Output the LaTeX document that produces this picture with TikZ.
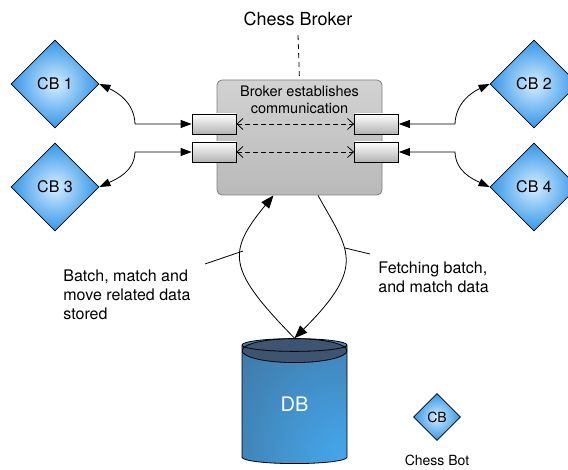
\documentclass[tikz,border=0pt]{standalone}
\usepackage{fontspec}
\setmainfont{TeX Gyre Heros}
\usetikzlibrary{shapes.geometric,arrows.meta}
\definecolor{botblue}{HTML}{3496E8}
\definecolor{botlight}{HTML}{D4EDFF}
\definecolor{dbdark}{HTML}{3D5570}
\definecolor{dblight}{HTML}{45ADF5}
\pgfdeclareradialshading{dbshade}{\pgfpoint{30bp}{-32bp}}{color(0bp)=(dblight); color(15bp)=(dblight!85!dbdark); color(60bp)=(dblight!35!dbdark); color(110bp)=(dbdark)}
\begin{document}
\begin{tikzpicture}[x=1pt, y=1pt, line width=0.8pt,
    bot/.style={diamond, draw, aspect=1, inner sep=0pt, minimum size=88, inner color=botlight, outer color=botblue, font=\fontsize{16}{19}\selectfont},
    port/.style={draw, minimum width=44, minimum height=20, inner sep=0pt, top color=white, bottom color=gray!60},
    link/.style={{Triangle[length=11pt,width=8pt]}-{Triangle[length=11pt,width=8pt]}},
    flow/.style={-{Triangle[length=13pt,width=10pt]}},
    talk/.style={{Straight Barb[length=6pt,width=11pt]}-{Straight Barb[length=6pt,width=11pt]}, dash pattern=on 5pt off 3pt},
    lbl/.style={align=left, inner sep=0pt, anchor=west, font=\fontsize{16}{19}\selectfont}]
  \useasboundingbox (0,0) rectangle (568,470);
  \node (title) [font=\fontsize{18}{21}\selectfont] at (298,451.5) {Chess Broker};
  \node (broker) [draw=gray, rounded corners=5, minimum width=165, minimum height=115, top color=gray!35, bottom color=gray!55] at (299.5,332.5) {};
  \node (bktext) [align=center, font=\fontsize{14.5}{17}\selectfont] at (299.5,370) {Broker establishes\\communication};
  \draw [dash pattern=on 5pt off 4pt] ([yshift=-6]title.south) -- (broker.north);
  \node (pl1) [port] at (214,346) {};
  \node (pl2) [port] at (214,318) {};
  \node (pr1) [port] at (376.5,346) {};
  \node (pr2) [port] at (376.5,318) {};
  \draw [talk] (pl1) -- (pr1);
  \draw [talk] (pl2) -- (pr2);
  \node (cb1) [bot] at (55,386) {CB 1};
  \node (cb3) [bot] at (55,283) {CB 3};
  \node (cb2) [bot] at (534,386) {CB 2};
  \node (cb4) [bot] at (534,283) {CB 4};
  \coordinate (k1) at (135,346);
  \coordinate (k3) at (135,318);
  \coordinate (k2) at (455,346);
  \coordinate (k4) at (455,318);
  \draw [link] (cb1.east) to[out=-25,in=92] (k1) -- (pl1);
  \draw [link] (cb3.east) to[out=25,in=-92] (k3) -- (pl2);
  \draw [link] (cb2.west) to[out=205,in=88] (k2) -- (pr1);
  \draw [link] (cb4.west) to[out=155,in=-88] (k4) -- (pr2);
  \node (db) [cylinder, shape border rotate=90, aspect=0.46, draw, minimum width=105, minimum height=125, inner sep=0pt, shading=dbshade, text=white, font=\fontsize{20}{24}\selectfont,
    path picture={\draw [fill=dbdark] ([yshift=-12]path picture bounding box.north) ellipse [x radius=52.5, y radius=12];}] at (294.5,65.5) {DB};
  \draw [flow] (db.north) .. controls (228,200) and (226,217) .. ([xshift=-26]broker.south);
  \draw [flow] ([xshift=18.5]broker.south) .. controls (348,220) and (368,205) .. (db.north);
  \node (store) [lbl] at (63,175) {Batch, match and\\move related data\\stored};
  \node (fetch) [lbl] at (378,193) {Fetching batch,\\and match data};
  \coordinate (s1) at (205,206);
  \coordinate (s2) at (243,219);
  \coordinate (f1) at (345,222);
  \coordinate (f2) at (370,216);
  \draw (s1) -- (s2);
  \draw (f1) -- (f2);
  \node (key) [bot, minimum size=47, font=\fontsize{14}{17}\selectfont] at (437,53) {CB};
  \node (keytext) [font=\fontsize{14}{17}\selectfont] at (437,10) {Chess Bot};
\end{tikzpicture}
\end{document}
